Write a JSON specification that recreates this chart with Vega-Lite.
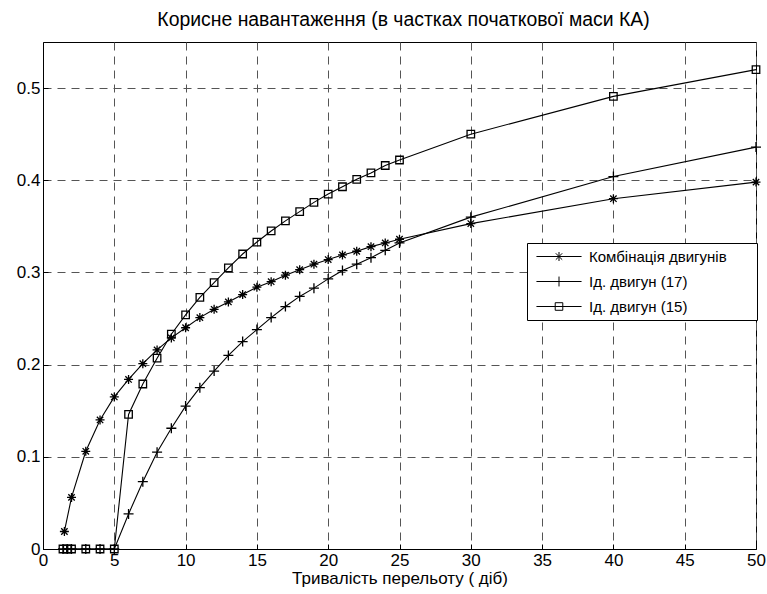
{
  "$schema": "https://vega.github.io/schema/vega-lite/v6.json",
  "width": 713,
  "height": 507,
  "autosize": {"type": "none"},
  "padding": {"left": 43, "top": 42, "right": 11, "bottom": 45},
  "background": "white",
  "config": {
    "font": "Liberation Sans",
    "view": {"stroke": "black", "strokeWidth": 1},
    "axis": {
      "labelFont": "Liberation Sans",
      "labelFontSize": 17,
      "labelColor": "black",
      "titleFont": "Liberation Sans",
      "titleFontSize": 17,
      "titleFontWeight": "normal",
      "titleColor": "black",
      "domainColor": "black",
      "tickColor": "black",
      "gridColor": "#555555",
      "gridDash": [8, 6],
      "gridWidth": 1,
      "gridOpacity": 1
    }
  },
  "title": {
    "text": "Корисне навантаження (в частках початкової маси КА)",
    "font": "Liberation Sans",
    "fontSize": 19.4,
    "fontWeight": "normal",
    "color": "black",
    "baseline": "alphabetic",
    "offset": -3,
    "dx": 4
  },
  "data": {
    "values": [
      {"s": "Комбінація двигунів", "x": 1.5, "y": 0.019},
      {"s": "Комбінація двигунів", "x": 2, "y": 0.056},
      {"s": "Комбінація двигунів", "x": 3, "y": 0.106},
      {"s": "Комбінація двигунів", "x": 4, "y": 0.14},
      {"s": "Комбінація двигунів", "x": 5, "y": 0.165},
      {"s": "Комбінація двигунів", "x": 6, "y": 0.184},
      {"s": "Комбінація двигунів", "x": 7, "y": 0.201},
      {"s": "Комбінація двигунів", "x": 8, "y": 0.216},
      {"s": "Комбінація двигунів", "x": 9, "y": 0.229},
      {"s": "Комбінація двигунів", "x": 10, "y": 0.24},
      {"s": "Комбінація двигунів", "x": 11, "y": 0.251},
      {"s": "Комбінація двигунів", "x": 12, "y": 0.26},
      {"s": "Комбінація двигунів", "x": 13, "y": 0.268},
      {"s": "Комбінація двигунів", "x": 14, "y": 0.276},
      {"s": "Комбінація двигунів", "x": 15, "y": 0.284},
      {"s": "Комбінація двигунів", "x": 16, "y": 0.29},
      {"s": "Комбінація двигунів", "x": 17, "y": 0.297},
      {"s": "Комбінація двигунів", "x": 18, "y": 0.303},
      {"s": "Комбінація двигунів", "x": 19, "y": 0.309},
      {"s": "Комбінація двигунів", "x": 20, "y": 0.314},
      {"s": "Комбінація двигунів", "x": 21, "y": 0.319},
      {"s": "Комбінація двигунів", "x": 22, "y": 0.323},
      {"s": "Комбінація двигунів", "x": 23, "y": 0.328},
      {"s": "Комбінація двигунів", "x": 24, "y": 0.332},
      {"s": "Комбінація двигунів", "x": 25, "y": 0.336},
      {"s": "Комбінація двигунів", "x": 30, "y": 0.353},
      {"s": "Комбінація двигунів", "x": 40, "y": 0.38},
      {"s": "Комбінація двигунів", "x": 50, "y": 0.398},
      {"s": "Ід. двигун (17)", "x": 1.4, "y": 0},
      {"s": "Ід. двигун (17)", "x": 1.7, "y": 0},
      {"s": "Ід. двигун (17)", "x": 2, "y": 0},
      {"s": "Ід. двигун (17)", "x": 3, "y": 0},
      {"s": "Ід. двигун (17)", "x": 4, "y": 0},
      {"s": "Ід. двигун (17)", "x": 5, "y": 0},
      {"s": "Ід. двигун (17)", "x": 6, "y": 0.038},
      {"s": "Ід. двигун (17)", "x": 7, "y": 0.073},
      {"s": "Ід. двигун (17)", "x": 8, "y": 0.105},
      {"s": "Ід. двигун (17)", "x": 9, "y": 0.131},
      {"s": "Ід. двигун (17)", "x": 10, "y": 0.155},
      {"s": "Ід. двигун (17)", "x": 11, "y": 0.175},
      {"s": "Ід. двигун (17)", "x": 12, "y": 0.193},
      {"s": "Ід. двигун (17)", "x": 13, "y": 0.21},
      {"s": "Ід. двигун (17)", "x": 14, "y": 0.225},
      {"s": "Ід. двигун (17)", "x": 15, "y": 0.238},
      {"s": "Ід. двигун (17)", "x": 16, "y": 0.251},
      {"s": "Ід. двигун (17)", "x": 17, "y": 0.263},
      {"s": "Ід. двигун (17)", "x": 18, "y": 0.274},
      {"s": "Ід. двигун (17)", "x": 19, "y": 0.283},
      {"s": "Ід. двигун (17)", "x": 20, "y": 0.293},
      {"s": "Ід. двигун (17)", "x": 21, "y": 0.302},
      {"s": "Ід. двигун (17)", "x": 22, "y": 0.309},
      {"s": "Ід. двигун (17)", "x": 23, "y": 0.316},
      {"s": "Ід. двигун (17)", "x": 24, "y": 0.324},
      {"s": "Ід. двигун (17)", "x": 25, "y": 0.332},
      {"s": "Ід. двигун (17)", "x": 30, "y": 0.36},
      {"s": "Ід. двигун (17)", "x": 40, "y": 0.404},
      {"s": "Ід. двигун (17)", "x": 50, "y": 0.436},
      {"s": "Ід. двигун (15)", "x": 1.4, "y": 0},
      {"s": "Ід. двигун (15)", "x": 1.7, "y": 0},
      {"s": "Ід. двигун (15)", "x": 2, "y": 0},
      {"s": "Ід. двигун (15)", "x": 3, "y": 0},
      {"s": "Ід. двигун (15)", "x": 4, "y": 0},
      {"s": "Ід. двигун (15)", "x": 5, "y": 0},
      {"s": "Ід. двигун (15)", "x": 6, "y": 0.146},
      {"s": "Ід. двигун (15)", "x": 7, "y": 0.179},
      {"s": "Ід. двигун (15)", "x": 8, "y": 0.207},
      {"s": "Ід. двигун (15)", "x": 9, "y": 0.233},
      {"s": "Ід. двигун (15)", "x": 10, "y": 0.254},
      {"s": "Ід. двигун (15)", "x": 11, "y": 0.273},
      {"s": "Ід. двигун (15)", "x": 12, "y": 0.289},
      {"s": "Ід. двигун (15)", "x": 13, "y": 0.305},
      {"s": "Ід. двигун (15)", "x": 14, "y": 0.32},
      {"s": "Ід. двигун (15)", "x": 15, "y": 0.333},
      {"s": "Ід. двигун (15)", "x": 16, "y": 0.345},
      {"s": "Ід. двигун (15)", "x": 17, "y": 0.356},
      {"s": "Ід. двигун (15)", "x": 18, "y": 0.366},
      {"s": "Ід. двигун (15)", "x": 19, "y": 0.376},
      {"s": "Ід. двигун (15)", "x": 20, "y": 0.385},
      {"s": "Ід. двигун (15)", "x": 21, "y": 0.393},
      {"s": "Ід. двигун (15)", "x": 22, "y": 0.401},
      {"s": "Ід. двигун (15)", "x": 23, "y": 0.408},
      {"s": "Ід. двигун (15)", "x": 24, "y": 0.416},
      {"s": "Ід. двигун (15)", "x": 25, "y": 0.422},
      {"s": "Ід. двигун (15)", "x": 30, "y": 0.45},
      {"s": "Ід. двигун (15)", "x": 40, "y": 0.491},
      {"s": "Ід. двигун (15)", "x": 50, "y": 0.52}
    ]
  },
  "encoding": {
    "x": {
      "field": "x",
      "type": "quantitative",
      "scale": {"domain": [0, 50], "nice": false, "zero": false},
      "axis": {
        "values": [0, 5, 10, 15, 20, 25, 30, 35, 40, 45, 50],
        "title": "Тривалість перельоту ( діб)",
        "tickSize": -5,
        "labelPadding": 8,
        "titlePadding": 2,
        "grid": true,
        "labelFlush": false
      }
    },
    "y": {
      "field": "y",
      "type": "quantitative",
      "scale": {"domain": [0, 0.55], "nice": false},
      "axis": {
        "values": [0, 0.1, 0.2, 0.3, 0.4, 0.5],
        "format": "~g",
        "title": null,
        "tickSize": -5,
        "labelPadding": 8,
        "grid": true
      }
    }
  },
  "layer": [
    {
      "mark": {"type": "line", "color": "black", "strokeWidth": 1.1, "clip": false},
      "encoding": {"detail": {"field": "s"}}
    },
    {
      "mark": {"type": "point", "filled": false, "color": "black", "strokeWidth": 1.3, "size": 100, "opacity": 1, "clip": false},
      "encoding": {
        "shape": {
          "field": "s",
          "type": "nominal",
          "scale": {
            "domain": ["Комбінація двигунів", "Ід. двигун (17)", "Ід. двигун (15)"],
            "range": [
              "M-0.9,0L0.9,0M0,-0.9L0,0.9M-0.64,-0.64L0.64,0.64M-0.64,0.64L0.64,-0.64",
              "M-1,0L1,0M0,-1L0,1",
              "M-0.75,-0.75L0.75,-0.75L0.75,0.75L-0.75,0.75Z"
            ]
          },
          "legend": null
        }
      }
    },
    {
      "transform": [{"filter": "datum.x < 0"}],
      "mark": {"type": "point", "filled": false, "color": "black", "strokeWidth": 1, "opacity": 1},
      "encoding": {
        "shape": {
          "field": "s",
          "type": "nominal",
          "scale": {
            "domain": ["Комбінація двигунів", "Ід. двигун (17)", "Ід. двигун (15)"],
            "range": [
              "M-0.82,0L0.82,0M0,-0.164L0,0.164M-0.116,-0.116L0.116,0.116M-0.116,0.116L0.116,-0.116",
              "M-0.82,0L0.82,0M0,-0.18L0,0.18",
              "M-0.82,0L0.82,0M-0.138,-0.138L0.138,-0.138L0.138,0.138L-0.138,0.138Z"
            ]
          },
          "legend": {
            "title": null,
            "orient": "none",
            "legendX": 484,
            "legendY": 201,
            "strokeColor": "black",
            "fillColor": "white",
            "padding": 4,
            "labelFont": "Liberation Sans",
            "labelFontSize": 15,
            "labelColor": "black",
            "labelOffset": 2,
            "labelLimit": 300,
            "symbolSize": 3025,
            "symbolStrokeWidth": 1,
            "symbolStrokeColor": "black",
            "symbolFillColor": "transparent",
            "clipHeight": 19,
            "rowPadding": 6,
            "labelExpr": "datum.label + '\u2003\u2800'"
          }
        }
      }
    }
  ],
  "resolve": {"scale": {"shape": "independent"}}
}
